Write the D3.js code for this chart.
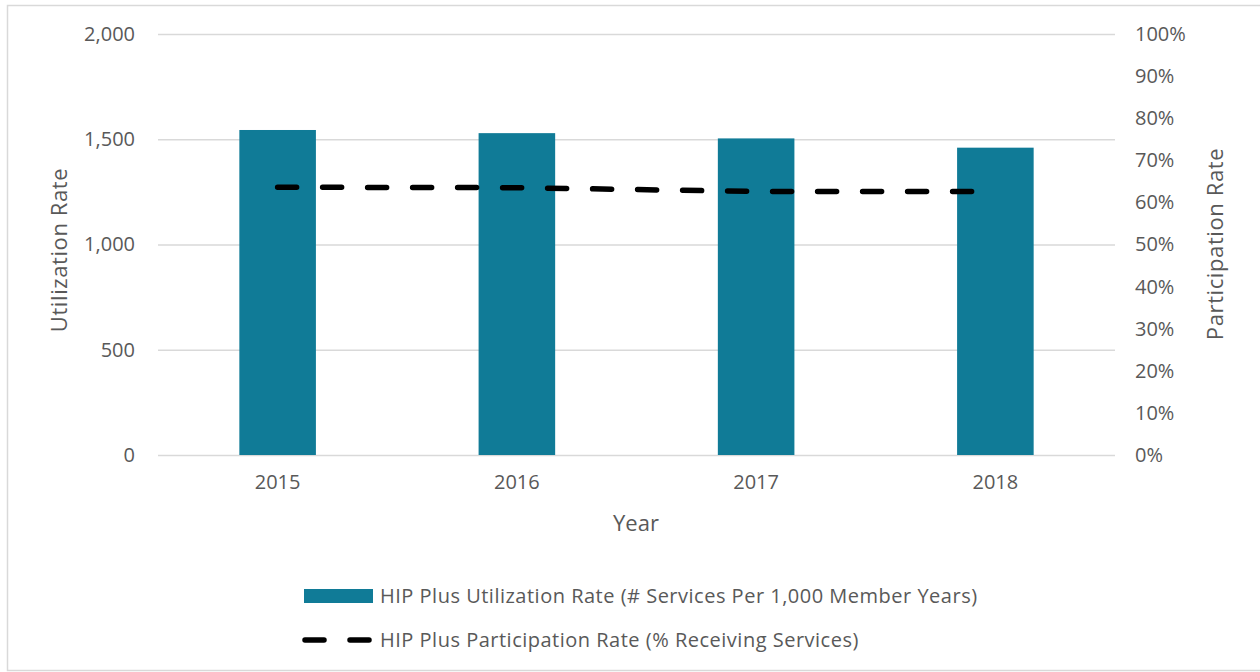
<!DOCTYPE html>
<html>
<head>
<meta charset="utf-8">
<script src="https://cdn.jsdelivr.net/npm/d3@7"></script>
<style>
  body { margin: 0; background: #fff; }
  svg text { font-family: "Open Sans", sans-serif; fill: #595959; }
</style>
</head>
<body>
<div id="chart"></div>
<script>
// chart data
let years = ["2015", "2016", "2017", "2018"];
let utilization = [1544, 1529, 1504, 1460];
let participation = [0.636, 0.635, 0.626, 0.626];
let leftTicks = [0, 500, 1000, 1500, 2000];
let rightTicks = [0, 0.1, 0.2, 0.3, 0.4, 0.5, 0.6, 0.7, 0.8, 0.9, 1];
let legendLabels = [
  "HIP Plus Utilization Rate (# Services Per 1,000 Member Years)",
  "HIP Plus Participation Rate (% Receiving Services)"
];

// canvas and plot area
let W = 1260, H = 672;
let plot = { left: 158, right: 1115, top: 34, bottom: 455 };

let svg = d3
  .select("#chart")
  .append("svg")
  .attr("width", W)
  .attr("height", H);

// outer border of the chart
svg
  .append("rect")
  .attr("x", 7.5)
  .attr("y", 5.5)
  .attr("width", W)
  .attr("height", 665)
  .attr("fill", "#fff")
  .attr("stroke", "#d9d9d9")
  .attr("stroke-width", 1.5);

// scales
let x = d3.scaleBand().domain(years).range([plot.left, plot.right]).paddingInner(0.68).paddingOuter(0.34);
let y = d3.scaleLinear().domain([0, 2000]).range([plot.bottom, plot.top]);
let y2 = d3.scaleLinear().domain([0, 1]).range([plot.bottom, plot.top]);

// gridlines + left axis
let leftAxis = d3
  .axisLeft(y)
  .tickValues(leftTicks)
  .tickSize(-(plot.right - plot.left))
  .tickPadding(23)
  .tickFormat(d3.format(","));

let gl = svg
  .append("g")
  .attr("transform", "translate(" + plot.left + ",0)")
  .call(leftAxis);
gl.select(".domain").remove();
gl.selectAll(".tick line").attr("stroke", "#d9d9d9").attr("stroke-width", 1.3);
gl.selectAll(".tick text").style("font-size", "20px").attr("fill", "#595959");

// right axis
let rightAxis = d3
  .axisRight(y2)
  .tickValues(rightTicks)
  .tickSize(0)
  .tickPadding(20)
  .tickFormat(d3.format(".0%"));

let gr = svg
  .append("g")
  .attr("transform", "translate(" + plot.right + ",0)")
  .call(rightAxis);
gr.select(".domain").remove();
gr.selectAll(".tick text").style("font-size", "20px").attr("fill", "#595959");

// bars
svg
  .append("g")
  .selectAll("rect")
  .data(years)
  .enter()
  .append("rect")
  .attr("x", function(d) { return x(d); })
  .attr("width", x.bandwidth())
  .attr("y", function(d, i) { return y(utilization[i]); })
  .attr("height", function(d, i) { return y(0) - y(utilization[i]); })
  .attr("fill", "#107b97");

// x axis labels
let bottomAxis = d3.axisBottom(x).tickSize(0).tickPadding(20);
let gb = svg
  .append("g")
  .attr("transform", "translate(0," + plot.bottom + ")")
  .call(bottomAxis);
gb.select(".domain").remove();
gb.selectAll(".tick text").style("font-size", "20px").attr("fill", "#595959");

// participation line
let line = d3
  .line()
  .x(function(d, i) { return x(years[i]) + x.bandwidth() / 2; })
  .y(function(d) { return y2(d); });

svg
  .append("path")
  .datum(participation)
  .attr("fill", "none")
  .attr("stroke", "#000")
  .attr("stroke-width", 5.5)
  .attr("stroke-linecap", "round")
  .attr("stroke-dasharray", "19,26")
  .attr("d", line);

// axis titles
svg
  .append("text")
  .attr("transform", "translate(67,250) rotate(-90)")
  .style("text-anchor", "middle")
  .style("font-size", "22px")
  .style("letter-spacing", "0.6px")
  .text("Utilization Rate");

svg
  .append("text")
  .attr("transform", "translate(1223,244) rotate(-90)")
  .style("text-anchor", "middle")
  .style("font-size", "22px")
  .style("letter-spacing", "0.6px")
  .text("Participation Rate");

svg
  .append("text")
  .attr("x", 636)
  .attr("y", 531)
  .style("text-anchor", "middle")
  .style("font-size", "22px")
  .text("Year");

// legend
let lg = svg.append("g");
lg.append("rect")
  .attr("x", 304)
  .attr("y", 589)
  .attr("width", 69)
  .attr("height", 14)
  .attr("fill", "#107b97");

lg.append("line")
  .attr("x1", 305)
  .attr("x2", 372)
  .attr("y1", 640)
  .attr("y2", 640)
  .attr("stroke", "#000")
  .attr("stroke-width", 5.5)
  .attr("stroke-linecap", "round")
  .attr("stroke-dasharray", "19,26");

lg.selectAll("text")
  .data(legendLabels)
  .enter()
  .append("text")
  .attr("x", 380)
  .attr("y", function(d, i) { return 596 + i * 44; })
  .attr("dy", "0.35em")
  .style("font-size", "20px")
  .style("letter-spacing", "0.5px")
  .text(function(d) { return d; });
</script>
</body>
</html>
